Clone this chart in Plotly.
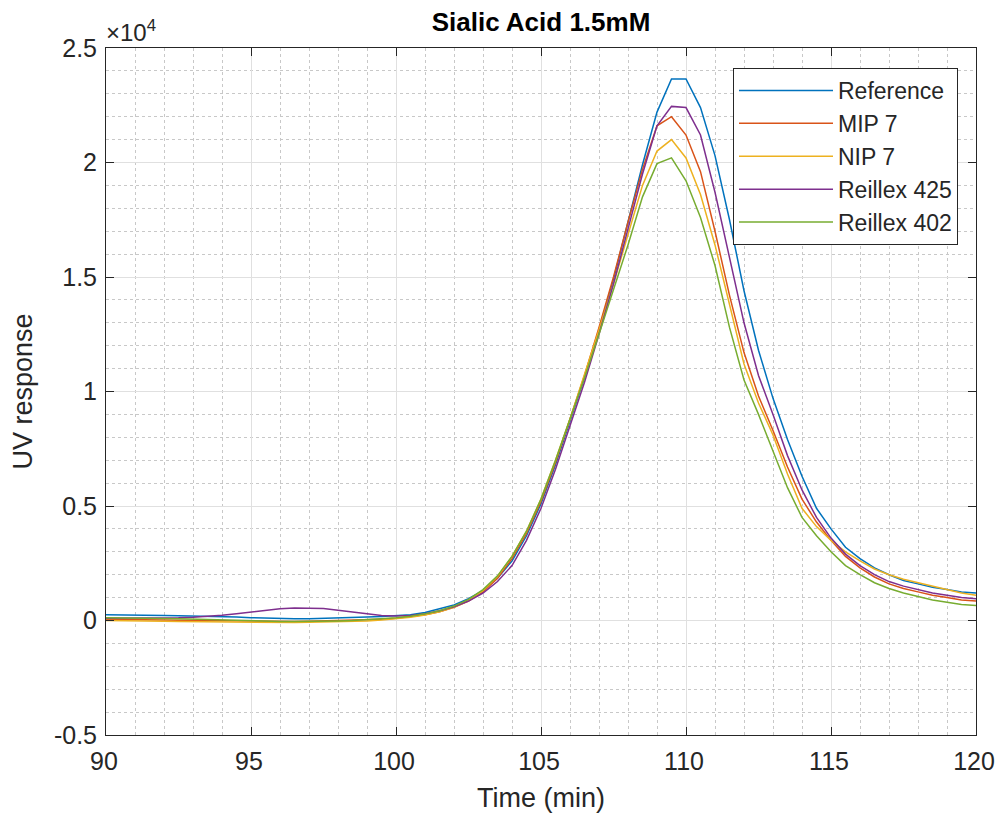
import plotly.graph_objects as go

time_min = [90, 90.5, 91, 91.5, 92, 92.5, 93, 93.5, 94, 94.5, 95, 95.5, 96, 96.5, 97, 97.5,
            98, 98.5, 99, 99.5, 100, 100.5, 101, 101.5, 102, 102.5, 103, 103.5, 104, 104.5,
            105, 105.5, 106, 106.5, 107, 107.5, 108, 108.5, 109, 109.5, 110, 110.5, 111, 111.5,
            112, 112.5, 113, 113.5, 114, 114.5, 115, 115.5, 116, 116.5, 117, 117.5, 118, 118.5,
            119, 119.5, 120]

reference = [250, 250, 250, 240, 220, 210, 200, 180, 170, 150, 120, 100, 80, 80, 80, 90,
             100, 120, 150, 170, 200, 250, 350, 500, 680, 950, 1300, 1850, 2600, 3700,
             5100, 6800, 8700, 10600, 12700, 14900, 17400, 19900, 22200, 23650, 23650, 22400, 20300, 17500,
             14400, 11800, 9700, 7900, 6300, 4900, 4000, 3200, 2700, 2300, 2000, 1750, 1600, 1450,
             1350, 1250, 1200]

mip7 = [50, 50, 40, 30, 20, 10, 0, -10, -20, -30, -40, -40, -40, -40, -30, -20,
        -10, 0, 20, 50, 100, 160, 250, 380, 580, 850, 1250, 1850, 2700, 3800,
        5200, 6900, 8800, 10700, 12800, 15000, 17400, 19700, 21600, 22000, 21200, 19600, 17000, 14200,
        11700, 9800, 8300, 6700, 5300, 4300, 3500, 2800, 2300, 1900, 1600, 1400, 1250, 1100,
        1000, 900, 850]

nip7 = [0, 0, -10, -20, -30, -40, -50, -60, -70, -80, -90, -90, -90, -90, -80, -70,
        -60, -40, -20, 20, 70, 140, 240, 380, 580, 870, 1300, 1920, 2800, 3900,
        5300, 7000, 8800, 10700, 12700, 14700, 16800, 19000, 20500, 21000, 20200, 18600, 16400, 13800,
        11200, 9500, 8100, 6400, 4900, 4100, 3500, 3000, 2600, 2250, 2000, 1800, 1650, 1500,
        1350, 1200, 1100]

reillex425 = [100, 100, 100, 100, 110, 120, 140, 180, 230, 300, 370, 450, 510, 550, 550, 520,
              450, 370, 280, 220, 200, 220, 300, 430, 600, 850, 1200, 1700, 2400, 3500,
              4900, 6600, 8500, 10400, 12500, 14700, 17100, 19500, 21600, 22450, 22400, 21200, 18700, 15800,
              13000, 10700, 9000, 7200, 5700, 4500, 3600, 2900, 2400, 2000, 1700, 1500, 1350, 1200,
              1100, 1000, 950]

reillex402 = [120, 120, 110, 100, 90, 80, 60, 40, 20, 0, -20, -30, -40, -40, -40, -30,
              -20, 0, 30, 70, 120, 190, 290, 430, 630, 920, 1350, 1950, 2800, 3900,
              5300, 7000, 8800, 10600, 12500, 14400, 16400, 18500, 19950, 20200, 19200, 17600, 15500, 12800,
              10500, 9000, 7400, 5800, 4500, 3700, 3000, 2400, 2000, 1650, 1400, 1200, 1050, 900,
              800, 700, 650]

series_names = ["Reference", "MIP 7", "NIP 7", "Reillex 425", "Reillex 402"]
series_values = [reference, mip7, nip7, reillex425, reillex402]
series_colors = ["#0072BD", "#D95319", "#EDB120", "#7E2F8E", "#77AC30"]

y_tick_vals = [-5000, 0, 5000, 10000, 15000, 20000, 25000]
y_tick_text = ["-0.5", "0", "0.5", "1", "1.5", "2", "2.5"]
x_tick_vals = [90, 95, 100, 105, 110, 115, 120]

FONT = "Liberation Sans, Arial, sans-serif"
AX = "#262626"

# page has an 8px body margin; size the figure so it fits the 1003x822 window
W, H = 987, 806
OFF = 8
L, T = 106 - OFF, 48 - OFF
R = W - (976 - OFF)
B = H - (735 - OFF)

fig = go.Figure()
for i, (name, vals, col) in enumerate(zip(series_names, series_values, series_colors)):
    fig.add_trace(go.Scatter(x=time_min, y=vals, mode="lines", name=name,
                             legendgroup=f"g{i}",
                             line=dict(color=col, width=1.5)))

axis_common = dict(
    showline=True, linecolor=AX, linewidth=1, mirror="ticks",
    ticks="inside", ticklen=8, tickcolor=AX, tickwidth=1,
    showgrid=True, gridcolor="#e0e0e0", gridwidth=1,
    zeroline=False, automargin=False, ticklabeloverflow="allow",
    tickfont=dict(family=FONT, size=25, color=AX),
)

fig.update_xaxes(
    range=[90, 120], tickvals=x_tick_vals, ticklabelstandoff=4, ticklabelshift=-2,
    title=dict(text="Time (min)", font=dict(family=FONT, size=27, color=AX), standoff=14),
    minor=dict(dtick=1, showgrid=True, griddash="dot", gridcolor="#c8c8c8", gridwidth=1),
    **axis_common,
)
fig.update_yaxes(
    range=[-5000, 25000], tickvals=y_tick_vals, ticktext=y_tick_text, ticklabelstandoff=3,
    title=dict(text="UV response", font=dict(family=FONT, size=27, color=AX), standoff=14),
    minor=dict(dtick=1000, showgrid=True, griddash="dot", gridcolor="#c8c8c8", gridwidth=1),
    **axis_common,
)

fig.add_annotation(
    x=0, y=1, xref="paper", yref="paper", xanchor="left", yanchor="bottom",
    text="×10<sup>4</sup>", showarrow=False, yshift=0, xshift=-2,
    font=dict(family=FONT, size=24, color=AX),
)

fig.update_layout(
    width=W, height=H,
    margin=dict(l=L, r=R, t=T, b=B, autoexpand=False),
    paper_bgcolor="white", plot_bgcolor="white",
    title=dict(text="<b>Sialic Acid 1.5mM</b>", x=(L + (976 - OFF)) / 2 / W, xanchor="center",
               y=1 - 14 / H, yanchor="middle",
               font=dict(family=FONT, size=26, color="#000000")),
    showlegend=True,
    legend=dict(x=(733 - 106) / 870, y=1 - (68 - 48) / 687, xanchor="left", yanchor="top",
                bgcolor="white", bordercolor="#262626", borderwidth=1,
                font=dict(family=FONT, size=23, color=AX),
                tracegroupgap=0, itemwidth=94),
)

fig.write_html("out.html")
